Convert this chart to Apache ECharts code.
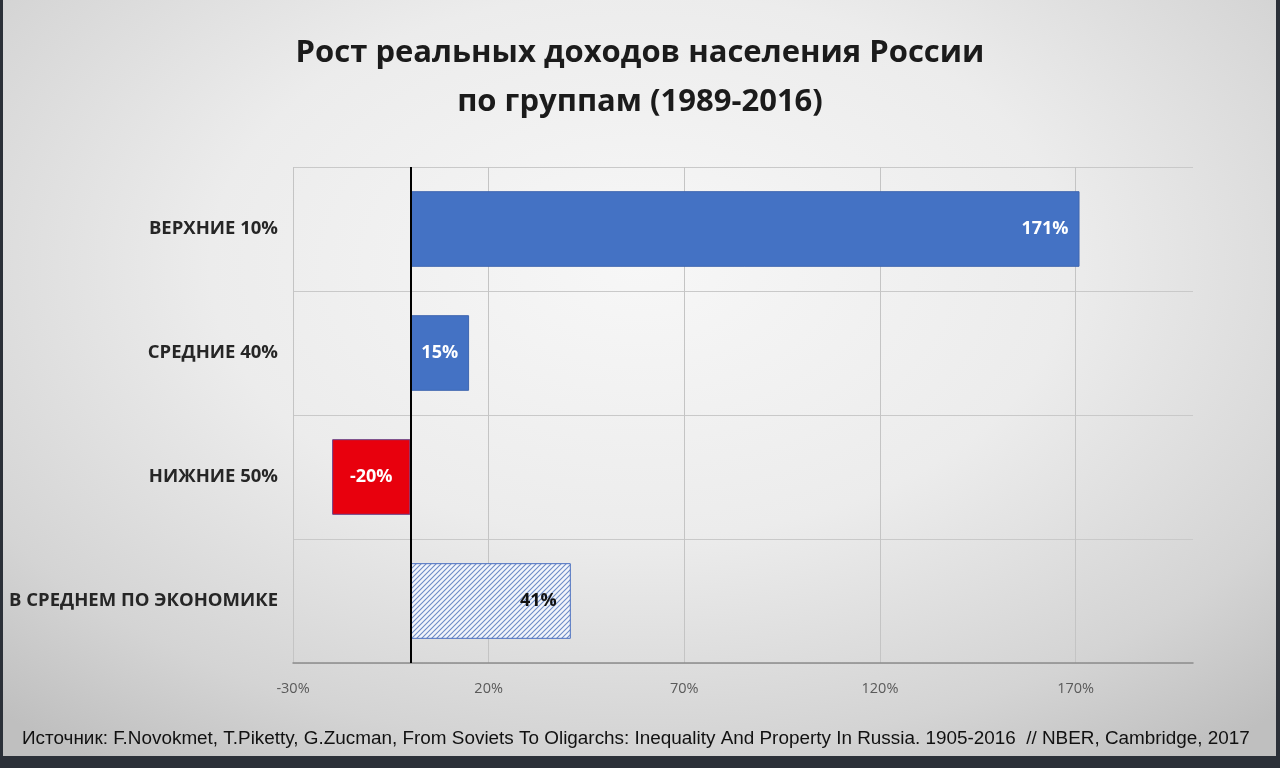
<!DOCTYPE html>
<html>
<head>
<meta charset="utf-8">
<script src="https://cdn.jsdelivr.net/npm/echarts@6/dist/echarts.min.js"></script>
<style>
  html, body { margin: 0; padding: 0; background: #2b3038; }
  #frame {
    position: absolute; left: 3px; top: 0; width: 1273px; height: 756px;
    background: radial-gradient(ellipse 75% 80% at 50% 35%, #f7f7f7 0%, #ececec 45%, #d4d4d4 80%, #bfbfbf 100%);
  }
  #income_chart { position: absolute; left: 0; top: 0; width: 1280px; height: 768px; }
</style>
</head>
<body>
<div id="frame"></div>
<div id="income_chart"></div>
<script>
  const categories = ['ВЕРХНИЕ 10%', 'СРЕДНИЕ 40%', 'НИЖНИЕ 50%', 'В СРЕДНЕМ ПО ЭКОНОМИКЕ'];
  const growth = [171, 15, -20, 41];
  const axisMin = -30;
  const axisMax = 200;
  const axisStep = 50;

  // штриховка для последнего столбца
  function makeHatch() {
    let c = document.createElement('canvas');
    c.width = 5; c.height = 5;
    let ctx = c.getContext('2d');
    ctx.fillStyle = '#f2f5fb';
    ctx.fillRect(0, 0, 5, 5);
    ctx.strokeStyle = '#6d8bc6';
    ctx.lineWidth = 1.1;
    ctx.beginPath();
    ctx.moveTo(0, 5); ctx.lineTo(5, 0);
    ctx.moveTo(-2.5, 2.5); ctx.lineTo(2.5, -2.5);
    ctx.moveTo(2.5, 7.5); ctx.lineTo(7.5, 2.5);
    ctx.stroke();
    return c;
  }

  let barData = growth.map(function (v, i) {
    let item = {value: v};
    if (i === 3) {
      item.itemStyle = {color: {image: makeHatch(), repeat: 'repeat'}, borderColor: '#4a6fc0', borderWidth: 1};
      item.label = {position: 'insideRight', distance: 14, color: '#111'};
    } else if (v < 0) {
      item.itemStyle = {color: '#e8000d', borderColor: '#6b3f86', borderWidth: 1};
      item.label = {position: 'inside'};
    } else if (v < 30) {
      item.itemStyle = {color: '#4472c4', borderColor: '#3f66b0', borderWidth: 1};
      item.label = {position: 'inside'};
    } else {
      item.itemStyle = {color: '#4472c4', borderColor: '#3f66b0', borderWidth: 1};
      item.label = {position: 'insideRight', distance: 11};
    }
    return item;
  });

  let myChart = echarts.init(document.getElementById('income_chart'));
  myChart.setOption({
    backgroundColor: 'transparent',
    animation: false,
    title: {
      text: 'Рост реальных доходов населения России\nпо группам (1989-2016)',
      left: 'center',
      top: 24,
      textStyle: {
        fontFamily: 'Open Sans',
        fontWeight: 700,
        fontSize: 31,
        lineHeight: 49,
        color: '#1b1b1b'
      }
    },
    grid: {left: 293, right: 87, top: 167, bottom: 105},
    xAxis: {
      type: 'value',
      min: axisMin,
      max: axisMax,
      interval: axisStep,
      axisLine: {show: true, lineStyle: {color: '#8c8c8c', width: 1.5}},
      axisTick: {show: false},
      axisLabel: {
        formatter: '{value}%',
        showMaxLabel: false,
        margin: 18,
        fontFamily: 'Open Sans',
        fontSize: 14.5,
        color: '#5a5a5a'
      },
      splitLine: {show: true, showMaxLine: false, lineStyle: {color: '#c4c4c4', width: 1}}
    },
    yAxis: {
      type: 'category',
      inverse: true,
      data: categories,
      axisLine: {show: false},
      axisTick: {show: false},
      axisLabel: {
        margin: 15,
        fontFamily: 'Open Sans',
        fontWeight: 700,
        fontSize: 18.5,
        color: '#262626'
      },
      splitLine: {show: true, lineStyle: {color: '#c9c9c9', width: 1.2}}
    },
    series: [{
      type: 'bar',
      data: barData,
      barWidth: '61%',
      label: {
        show: true,
        formatter: '{c}%',
        fontFamily: 'Open Sans',
        fontWeight: 700,
        fontSize: 18,
        color: '#fff'
      },
      markLine: {
        silent: true,
        symbol: 'none',
        label: {show: false},
        lineStyle: {color: '#000', width: 2, type: 'solid'},
        data: [{xAxis: 0}]
      }
    }],
    graphic: [{
      type: 'text',
      left: 22,
      top: 729,
      style: {
        text: 'Источник: F.Novokmet, T.Piketty, G.Zucman, From Soviets To Oligarchs: Inequality And Property In Russia. 1905-2016  // NBER, Cambridge, 2017',
        fontFamily: 'Liberation Sans',
        fontSize: 18.9,
        fill: '#111'
      }
    }]
  });
</script>
</body>
</html>
